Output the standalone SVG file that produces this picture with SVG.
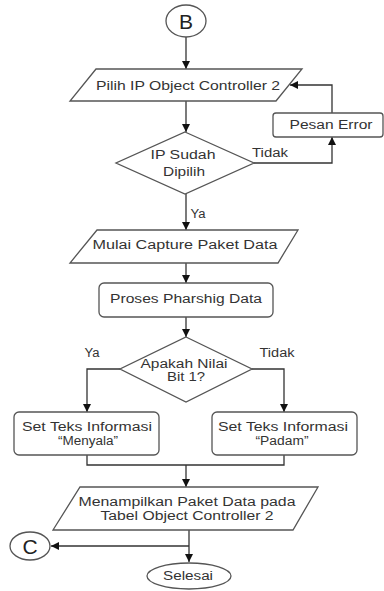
<svg xmlns="http://www.w3.org/2000/svg" width="384" height="591" viewBox="0 0 384 591">
<defs>
<marker id="ah" viewBox="0 0 10 10" refX="10" refY="5" markerWidth="8" markerHeight="8" markerUnits="userSpaceOnUse" orient="auto">
<path d="M0,0 L10,5 L0,10 z" fill="#111"/>
</marker>
<style>
.s{fill:#fff;stroke:#555;stroke-width:1.3}
.c{fill:none;stroke:#333;stroke-width:1.3}
.a{marker-end:url(#ah)}
text{font-family:"Liberation Sans",Arial,sans-serif;font-size:12px;fill:#333;text-anchor:middle}
.big{font-size:21px;fill:#222}
</style>
</defs>
<g id="connectors">
<line class="c a" x1="186" y1="37" x2="186" y2="69"/>
<line class="c a" x1="186" y1="101" x2="186" y2="132"/>
<polyline class="c a" points="254,163 332,163 332,137"/>
<polyline class="c a" points="332,113 332,85 290,85"/>
<line class="c a" x1="186" y1="194" x2="186" y2="230"/>
<line class="c a" x1="186" y1="263" x2="186" y2="283"/>
<line class="c a" x1="186" y1="317" x2="186" y2="337"/>
<polyline class="c a" points="120,369 87,369 87,412"/>
<polyline class="c a" points="252,369 284,369 284,412"/>
<polyline class="c" points="87,455 87,465 284,465 284,455"/>
<line class="c a" x1="186" y1="465" x2="186" y2="487"/>
<line class="c a" x1="189" y1="530" x2="189" y2="562"/>
<line class="c a" x1="189" y1="546" x2="51" y2="546"/>
<text x="270" y="157" textLength="36" lengthAdjust="spacingAndGlyphs">Tidak</text>
<text x="198" y="218" textLength="15" lengthAdjust="spacingAndGlyphs">Ya</text>
<text x="92" y="357" textLength="15" lengthAdjust="spacingAndGlyphs">Ya</text>
<text x="277" y="357" textLength="35" lengthAdjust="spacingAndGlyphs">Tidak</text>
</g>
<g id="nodeB">
<ellipse class="s" cx="186" cy="21" rx="20" ry="16"/>
<text class="big" x="186" y="28.500">B</text>
</g>
<g id="pilihIP">
<polygon class="s" points="96,69 302,69 276,101 70,101"/>
<text x="188" y="90" textLength="184" lengthAdjust="spacingAndGlyphs">Pilih IP Object Controller 2</text>
</g>
<g id="ipSudah">
<polygon class="s" points="185,132 254,163 185,194 116,163"/>
<text x="183" y="159" textLength="65" lengthAdjust="spacingAndGlyphs">IP Sudah</text>
<text x="184" y="176" textLength="42" lengthAdjust="spacingAndGlyphs">Dipilih</text>
</g>
<g id="pesanError">
<rect class="s" x="273" y="113" width="110" height="24" rx="3"/>
<text x="331" y="129" textLength="83" lengthAdjust="spacingAndGlyphs">Pesan Error</text>
</g>
<g id="mulaiCapture">
<polygon class="s" points="97,230 298,230 278,263 70,263"/>
<text x="185" y="249" textLength="185" lengthAdjust="spacingAndGlyphs">Mulai Capture  Paket Data</text>
</g>
<g id="prosesParsing">
<rect class="s" x="99" y="283" width="174" height="34" rx="5"/>
<text x="186" y="303" textLength="152" lengthAdjust="spacingAndGlyphs">Proses Pharshig Data</text>
</g>
<g id="apakahNilai">
<polygon class="s" points="186,337 252,369 186,402 120,369"/>
<text x="184" y="368" textLength="87" lengthAdjust="spacingAndGlyphs">Apakah Nilai</text>
<text x="186" y="381" textLength="38" lengthAdjust="spacingAndGlyphs">Bit 1?</text>
</g>
<g id="setMenyala">
<rect class="s" x="14" y="412" width="145" height="43" rx="5"/>
<text x="87" y="431" textLength="130" lengthAdjust="spacingAndGlyphs">Set Teks Informasi</text>
<text x="88" y="445" textLength="60" lengthAdjust="spacingAndGlyphs">“Menyala”</text>
</g>
<g id="setPadam">
<rect class="s" x="212" y="412" width="145" height="43" rx="5"/>
<text x="283" y="431" textLength="130" lengthAdjust="spacingAndGlyphs">Set Teks Informasi</text>
<text x="282" y="445" textLength="53" lengthAdjust="spacingAndGlyphs">“Padam”</text>
</g>
<g id="menampilkan">
<polygon class="s" points="80,487 318,487 293,530 53,530"/>
<text x="187" y="506" textLength="217" lengthAdjust="spacingAndGlyphs">Menampilkan Paket Data pada</text>
<text x="187" y="520" textLength="173" lengthAdjust="spacingAndGlyphs">Tabel Object Controller 2</text>
</g>
<g id="nodeC">
<ellipse class="s" cx="30" cy="546" rx="20" ry="14"/>
<text class="big" x="30" y="553.500">C</text>
</g>
<g id="selesai">
<ellipse class="s" cx="189" cy="576" rx="42" ry="13"/>
<text x="188" y="580" textLength="50" lengthAdjust="spacingAndGlyphs">Selesai</text>
</g>
</svg>
